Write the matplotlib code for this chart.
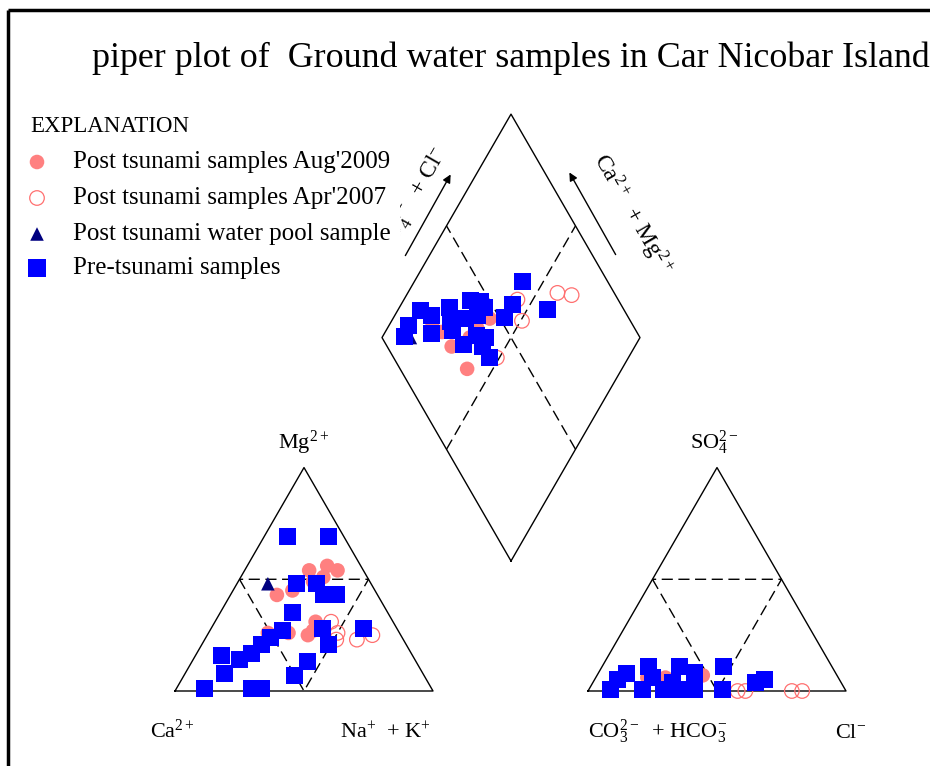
# LIBRARIES

import matplotlib
matplotlib.use("Agg")
import matplotlib.pyplot as plt
from matplotlib.patches import Rectangle


# DATA  (percent of meq/l)

# cation triangle: Mg2+ (top) and Na+ + K+ (right); Ca2+ is the rest
aug09_mg  = [54, 56, 54, 51, 49, 43, 45, 31, 27, 26, 26, 25]
aug09_nak = [25, 31, 36, 32, 29, 18, 23, 39, 40, 31, 23, 39]
apr07_mg  = [31, 26, 23, 23, 25]
apr07_nak = [45, 50, 51, 59, 64]
pool_mg   = [48]
pool_nak  = [12]
pre_mg  = [69, 69, 48, 48, 43, 43, 35, 28, 21, 28, 13, 7, 27, 24, 21, 17, 14, 16, 8, 1, 1, 1]
pre_nak = [9, 25, 23, 31, 36, 41, 28, 43, 49, 59, 45, 43, 28, 25, 23, 21, 18, 10, 15, 11, 29, 33]

# anion triangle: SO4 2- (top) and Cl- (right); CO3 2- + HCO3- is the rest
aug09_so4 = [6, 6, 7]
aug09_cl  = [20, 27, 41]
apr07_so4 = [0, 0, 0, 0]
apr07_cl  = [58, 61, 79, 83]
pre_so4 = [8, 5, 0.5, 11, 6, 0.5, 11, 8.5, 0.5, 0.5, 0.5, 11, 0.5, 3.6, 5, 3.6]
pre_cl  = [11, 9, 8.5, 18, 22, 21, 30, 37, 29, 35.5, 41, 47, 52, 63, 66, 31]

# diamond: SO4 2- + Cl- and Ca2+ + Mg2+
aug09_so4cl = [26, 25, 24.5, 22, 34, 46, 39]
aug09_camg  = [60, 71, 78, 83, 66, 62.5, 65]
apr07_so4cl = [61, 58, 78, 83, 40]
apr07_camg  = [56, 49.5, 42, 36, 51]
pool_so4cl = [11]
pool_camg  = [89]
pre_so4cl = [21, 24, 13, 9, 20, 33, 42.5, 46, 30, 36.5, 42, 29, 30, 37, 37, 37, 67, 58, 52, 70.5, 46.5, 40]
pre_camg  = [91, 86, 92.5, 91.5, 82, 80.5, 74, 70, 77, 72, 68, 74, 67, 64, 59, 54, 58, 57, 57, 42, 67, 60]

series_labels = ["Post tsunami samples Aug'2009", "Post tsunami samples Apr'2007",
                 "Post tsunami water pool sample", "Pre-tsunami samples"]


# GEOMETRY (pixel layout of the drawing)

SIDE = 258
H = 0.866
CAT_O = (175, 691)
AN_O = (588, 691)
DIA_B = (511, 561)


def tri_xy(origin, right, top):
    x = [origin[0] + SIDE * (r / 100 + t / 200) for r, t in zip(right, top)]
    y = [origin[1] - SIDE * H * t / 100 for t in top]
    return x, y


def dia_xy(s, c):
    x = [DIA_B[0] + SIDE * 0.5 * (a - b) / 100 for a, b in zip(s, c)]
    y = [DIA_B[1] - SIDE * H * (a + b) / 100 for a, b in zip(s, c)]
    return x, y


plt.rcParams['font.family'] = ['Liberation Serif', 'DejaVu Serif']
plt.rcParams['mathtext.fontset'] = 'custom'
plt.rcParams['mathtext.rm'] = 'Liberation Serif'
plt.rcParams['mathtext.it'] = 'Liberation Serif:italic'

fig = plt.figure(figsize=(9.3, 7.66), dpi=100)
ax = fig.add_axes([0, 0, 1, 1])
ax.set_xlim(0, 930)
ax.set_ylim(766, 0)
ax.axis('off')

DASH = (0, (8, 4))
EDGE = dict(color='black', lw=1.0, zorder=2)
INNER = dict(color='black', lw=1.0, ls=DASH, zorder=2)

# triangles
for o in (CAT_O, AN_O):
    x, y = tri_xy(o, [0, 100, 0, 0], [0, 0, 100, 0])
    ax.plot(x, y, **EDGE)
    x, y = tri_xy(o, [0, 50, 50, 0], [50, 0, 50, 50])
    ax.plot(x, y, **INNER)

# diamond
x, y = dia_xy([0, 100, 100, 0, 0], [0, 0, 100, 100, 0])
ax.plot(x, y, **EDGE)
x, y = dia_xy([50, 50], [0, 100])
ax.plot(x, y, **INNER)
x, y = dia_xy([0, 100], [50, 50])
ax.plot(x, y, **INNER)

# styles
st_aug = dict(marker='o', s=110, color='#FF8080', edgecolors='none', zorder=3)
st_apr = dict(marker='o', s=110, facecolors='none', edgecolors='#FF7070', linewidths=0.9, zorder=4)
st_pool = dict(marker='^', s=95, color='#000080', edgecolors='none', zorder=5)
st_pre = dict(marker='s', s=150, color='#0000FF', edgecolors='none', zorder=6)

# cation triangle points
ax.scatter(*tri_xy(CAT_O, aug09_nak, aug09_mg), **st_aug)
ax.scatter(*tri_xy(CAT_O, apr07_nak, apr07_mg), **st_apr)
ax.scatter(*tri_xy(CAT_O, pool_nak, pool_mg), **st_pool)
ax.scatter(*tri_xy(CAT_O, pre_nak, pre_mg), **st_pre)

# anion triangle points
ax.scatter(*tri_xy(AN_O, aug09_cl, aug09_so4), **st_aug)
ax.scatter(*tri_xy(AN_O, apr07_cl, apr07_so4), **st_apr)
ax.scatter(*tri_xy(AN_O, pre_cl, pre_so4), **st_pre)

# diamond points
ax.scatter(*dia_xy(aug09_so4cl, aug09_camg), **st_aug)
ax.scatter(*dia_xy(apr07_so4cl, apr07_camg), **st_apr)
ax.scatter(*dia_xy(pool_so4cl, pool_camg), **st_pool)
ax.scatter(*dia_xy(pre_so4cl, pre_camg), **st_pre)

# axis labels
FS = 16
ax.text(278, 449, r'Mg$^{\mathregular{2+}}$', fontsize=FS, va='baseline')
ax.text(690, 449, r'SO$_{\mathregular{4}}^{\mathregular{2-}}$', fontsize=FS, va='baseline')
ax.text(150, 738, r'Ca$^{\mathregular{2+}}$', fontsize=FS, va='baseline')
ax.text(340, 738, r'Na$^{\mathregular{+}}$  + K$^{\mathregular{+}}$', fontsize=FS, va='baseline')
ax.text(588, 738, r'CO$_{\mathregular{3}}^{\mathregular{2-}}$  + HCO$_{\mathregular{3}}^{\mathregular{-}}$',
        fontsize=FS, va='baseline')
ax.text(835, 738, r'Cl$^{\mathregular{-}}$', fontsize=FS, va='baseline')

# diamond edge labels and arrows
ax.text(413, 200, r'SO$_{\mathregular{4}}^{\mathregular{2-}}$  + Cl$^{\mathregular{-}}$', fontsize=17,
        rotation=60, rotation_mode='anchor', ha='center', va='center', zorder=1)
ax.text(632, 214, r'Ca$^{\mathregular{2+}}$  + Mg$^{\mathregular{2+}}$', fontsize=17,
        rotation=-60, rotation_mode='anchor', ha='center', va='center', zorder=1)
arrow = dict(arrowstyle='-|>', lw=1.0, color='black', mutation_scale=12)
ax.annotate('', xy=(452, 172), xytext=(404, 258), arrowprops=arrow)
ax.annotate('', xy=(568, 170), xytext=(617, 257), arrowprops=arrow)

# legend (white box drawn over the diamond label, as in the reference)
ax.add_patch(Rectangle((14, 100), 386, 185, facecolor='white', edgecolor='none', zorder=7))
ax.text(30, 127, 'EXPLANATION', fontsize=16.5, va='center', zorder=8)
leg_y = [162, 198, 234, 268]
leg_styles = [st_aug, st_apr, st_pool, st_pre]
for yy, lab, st in zip(leg_y, series_labels, leg_styles):
    st = dict(st)
    st['zorder'] = 8
    ax.scatter([37], [yy], **st)
    ax.text(73, yy, lab, fontsize=18, va='center', zorder=8)

# title
ax.text(92, 58, 'piper plot of  Ground water samples in Car Nicobar Island', fontsize=25.8,
        va='center', ha='left')

# outer frame
ax.plot([8, 930], [10, 10], color='black', lw=2.5, zorder=9, solid_capstyle='butt')
ax.plot([8, 8], [10, 766], color='black', lw=2.5, zorder=9, solid_capstyle='butt')

fig.savefig('out.png', dpi=100)
